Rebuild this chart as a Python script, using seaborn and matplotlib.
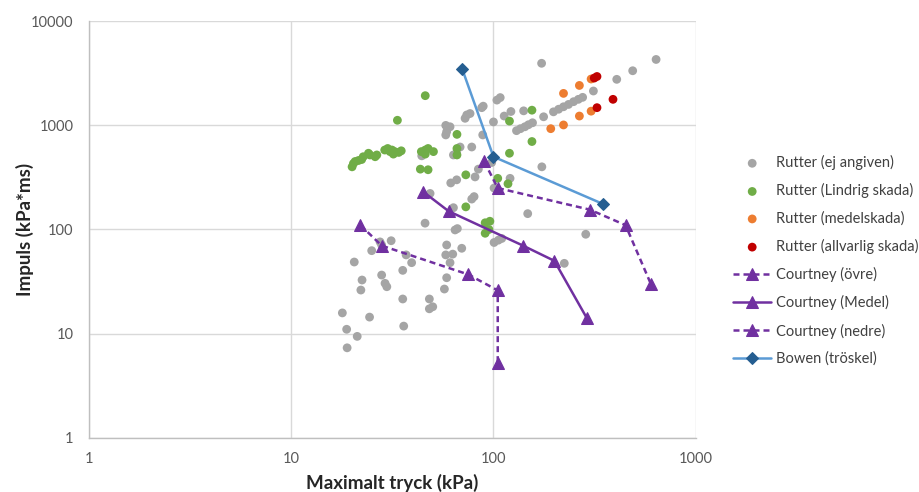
import matplotlib
matplotlib.use('Agg')
import matplotlib.pyplot as plt
import seaborn as sns
from matplotlib.ticker import FixedLocator, FixedFormatter, NullLocator

# ---------------- data ----------------
x_ticks = [1, 10, 100, 1000]
x_tick_labels = ['1', '10', '100', '1000']
y_ticks = [1, 10, 100, 1000, 10000]
y_tick_labels = ['1', '10', '100', '1000', '10000']

x_label = 'Maximalt tryck (kPa)'
y_label = 'Impuls (kPa*ms)'

series_labels = ['Rutter (ej angiven)', 'Rutter (Lindrig skada)', 'Rutter (medelskada)',
                 'Rutter (allvarlig skada)', 'Courtney (övre)', 'Courtney (Medel)',
                 'Courtney (nedre)', 'Bowen (tröskel)']

ej_x = [173, 637, 488, 407, 312,
        130, 136, 143, 149, 156,
        198, 210, 222, 235, 249, 263, 276,
        177, 100, 113, 122, 141,
        89, 87.5, 104, 108,
        72.4, 73.8, 76.6,
        58.1, 61, 58.1, 58.7,
        88.5, 68.4, 78.1, 63.4, 65.8, 44.2,
        98, 173.5, 84.2, 81.1, 65.8, 61.5,
        100.7, 120.8, 78.1, 80.2, 48.6, 63.4,
        147.7, 45.9, 64.6, 66.3, 286,
        100.7, 105.8, 109.9,
        27.5, 31.2, 25, 28,
        58.7, 69.7, 58.1, 62.9, 61,
        37, 39.4, 35.6, 20.5, 224,
        28, 29.1, 29.7, 22.4, 22.1,
        58.7, 57.2, 35.6, 48.2, 48.2, 50.1,
        17.9, 24.4, 36, 18.8, 21.2, 18.9]
ej_y = [3950, 4300, 3350, 2770, 2140,
        890, 930, 970, 1015, 1060,
        1350, 1430, 1510, 1590, 1690, 1780, 1860,
        1210, 1080, 1230, 1360, 1380,
        1530, 1480, 1750, 1850,
        1170, 1260, 1300,
        1000, 970, 810, 870,
        810, 620, 620, 520, 540, 510,
        440, 400, 380, 320, 300, 280,
        250, 310, 196, 207, 222, 162,
        142, 115, 99, 102, 90,
        75, 79, 82,
        76, 78, 62.6, 71,
        71, 66, 57, 58, 48,
        57, 48, 40.5, 48.7, 47.3,
        36.5, 30.4, 28.2, 32.7, 26.2,
        34.4, 26.8, 21.5, 21.5, 17.3, 18.1,
        15.8, 14.4, 11.8, 11, 9.4, 7.3]

lindrig_x = [46, 33.5,
             20, 20.3, 20.7, 21.5, 22.3, 22.7, 24.1, 24.5, 26, 26.5,
             29, 30, 31.5, 32.5, 34, 35, 32, 30.8,
             44, 46, 47.5, 50.5, 46,
             43.5, 47.5,
             66, 66, 66,
             73, 73,
             105, 118, 120, 120, 155, 155,
             91, 96, 91, 95]
lindrig_y = [1930, 1120,
             400, 430, 450, 460, 470, 500, 540, 520, 500, 520,
             580, 600, 580, 560, 550, 570, 530, 560,
             560, 580, 600, 560, 530,
             380, 375,
             820, 600, 520,
             335, 165,
             310, 275, 540, 1100, 1400, 700,
             116, 120, 92, 100]

medel_x = [222, 266, 304, 192, 222, 266, 304]
medel_y = [2030, 2420, 2790, 930, 1010, 1230, 1370]

allvarlig_x = [325, 315, 390, 325]
allvarlig_y = [2950, 2850, 1780, 1480]

courtney_ovre_x = [90, 105, 300, 450, 600]
courtney_ovre_y = [450, 250, 155, 110, 30]

courtney_medel_x = [45, 60, 140, 200, 290]
courtney_medel_y = [230, 150, 70, 50, 14]

courtney_nedre_x = [22, 28, 75, 105, 105]
courtney_nedre_y = [110, 70, 37, 26, 5.2]

bowen_x = [70, 100, 350]
bowen_y = [3500, 500, 175]

# ---------------- style ----------------
sns.set_style('white')
plt.rcParams['font.family'] = ['Lato', 'DejaVu Sans']

GRAY = '#a5a5a5'
GREEN = '#70ad47'
ORANGE = '#ed7d31'
RED = '#c00000'
PURPLE = '#7030a0'
BLUE_LINE = '#5b9bd5'
BLUE_MARK = '#255e91'

fig = plt.figure(figsize=(9.2, 4.92), dpi=100)
ax = fig.add_axes([0.0967, 0.1104, 0.6595, 0.8463])
ax.set_xscale('log')
ax.set_yscale('log')

sc_kw = dict(s=40, edgecolor='none', linewidth=0, ax=ax, zorder=3)
sns.scatterplot(x=ej_x, y=ej_y, color=GRAY, label=series_labels[0], **sc_kw)
sns.scatterplot(x=lindrig_x, y=lindrig_y, color=GREEN, label=series_labels[1], **sc_kw)
sns.scatterplot(x=medel_x, y=medel_y, color=ORANGE, label=series_labels[2], **sc_kw)
sns.scatterplot(x=allvarlig_x, y=allvarlig_y, color=RED, label=series_labels[3], **sc_kw)

dash = (0, (2.4, 1.6))
ln_kw = dict(sort=False, estimator=None, ax=ax, zorder=4)
sns.lineplot(x=courtney_ovre_x, y=courtney_ovre_y, color=PURPLE, linewidth=1.8,
             linestyle=dash, marker='^', markersize=9, markeredgecolor=PURPLE,
             markerfacecolor=PURPLE, label=series_labels[4], **ln_kw)
sns.lineplot(x=courtney_medel_x, y=courtney_medel_y, color=PURPLE, linewidth=1.8,
             linestyle='-', marker='^', markersize=9, markeredgecolor=PURPLE,
             markerfacecolor=PURPLE, label=series_labels[5], **ln_kw)
sns.lineplot(x=courtney_nedre_x, y=courtney_nedre_y, color=PURPLE, linewidth=1.8,
             linestyle=dash, marker='^', markersize=9, markeredgecolor=PURPLE,
             markerfacecolor=PURPLE, label=series_labels[6], **ln_kw)
sns.lineplot(x=bowen_x, y=bowen_y, color=BLUE_LINE, linewidth=1.8,
             marker='D', markersize=6.5, markeredgecolor=BLUE_MARK,
             markerfacecolor=BLUE_MARK, label=series_labels[7], **ln_kw)

ax.set_xlim(1, 1000)
ax.set_ylim(1, 10000)
ax.xaxis.set_major_locator(FixedLocator(x_ticks))
ax.xaxis.set_major_formatter(FixedFormatter(x_tick_labels))
ax.yaxis.set_major_locator(FixedLocator(y_ticks))
ax.yaxis.set_major_formatter(FixedFormatter(y_tick_labels))
ax.xaxis.set_minor_locator(NullLocator())
ax.yaxis.set_minor_locator(NullLocator())
ax.tick_params(axis='both', length=0, labelsize=10.5, labelcolor='#595959')
ax.tick_params(axis='x', pad=10)
ax.tick_params(axis='y', pad=11)

ax.grid(True, which='major', color='#d9d9d9', linewidth=1.0, zorder=0)
ax.set_axisbelow(True)
for side in ['top', 'right']:
    ax.spines[side].set_visible(False)
for side in ['left', 'bottom']:
    ax.spines[side].set_color('#bfbfbf')
    ax.spines[side].set_linewidth(1.0)

ax.set_xlabel(x_label, fontsize=13.5, fontweight='bold', color='#262626')
ax.set_ylabel(y_label, fontsize=13.5, fontweight='bold', color='#262626')
ax.xaxis.set_label_coords(0.5, -0.108)
ax.xaxis.label.set_va('center')
ax.yaxis.set_label_coords(-0.105, 0.5)
ax.yaxis.label.set_va('center')

leg = ax.legend(loc='center left', bbox_to_anchor=(0.797, 0.4705),
                bbox_transform=fig.transFigure, frameon=False, fontsize=10.5,
                labelspacing=0.9, handlelength=2.6, handletextpad=0.3,
                borderpad=0, borderaxespad=0, numpoints=1)
for t in leg.get_texts():
    t.set_color('#404040')

fig.savefig('out.png', dpi=100)
